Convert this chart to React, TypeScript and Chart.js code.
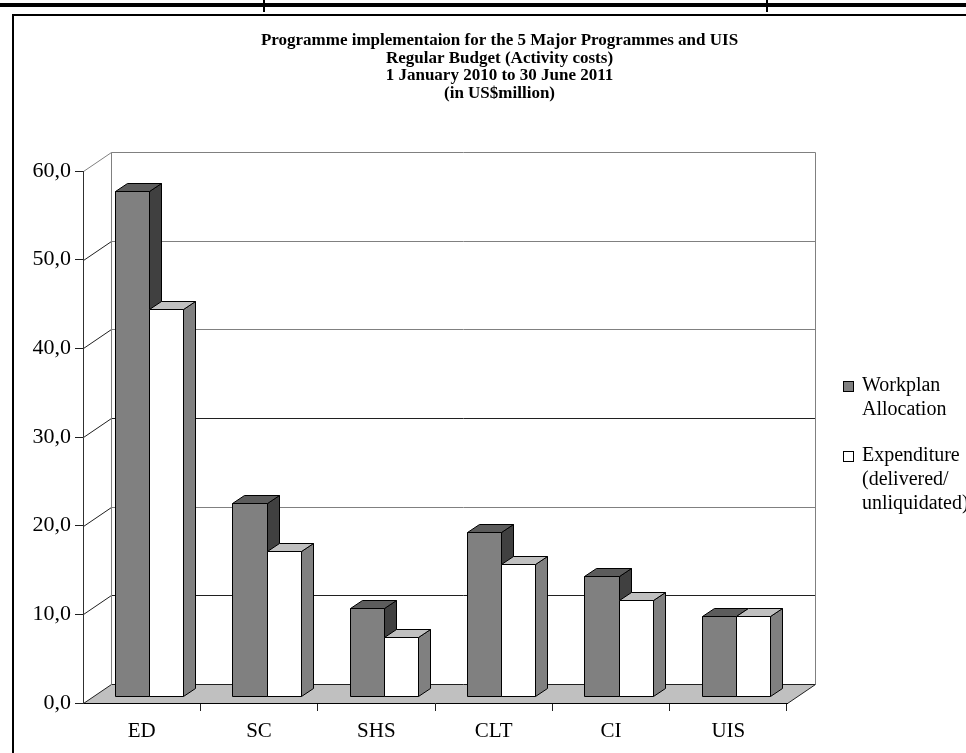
import React, { useEffect, useRef } from 'react';
import { Chart, registerables } from 'chart.js';

Chart.register(...registerables);

// ---- data ----
const categories = ['ED', 'SC', 'SHS', 'CLT', 'CI', 'UIS'];
const workplanAllocation = [57.0, 21.8, 9.9, 18.5, 13.5, 9.0];
const expenditure = [43.7, 16.4, 6.7, 14.9, 10.8, 9.0];
const yTickValues = [0, 10, 20, 30, 40, 50, 60];
const titleLines = [
  'Programme implementaion for the 5 Major Programmes and UIS',
  'Regular Budget (Activity costs)',
  '1 January 2010 to 30 June 2011',
  '(in US$million)',
];
const legendWorkplan = ['Workplan', 'Allocation'];
const legendExpenditure = ['Expenditure', '(delivered/', 'unliquidated)'];

// ---- styling ----
const SERIF = "'Liberation Serif', 'Times New Roman', serif";
const CANVAS_W = 999;
const CANVAS_H = 753;
// depth of the plot box (front plane -> back wall)
const DX = 28;
const DY = -19;
// bars sit slightly behind the front plane
const BAR_SHIFT_X = 7.5;
const BAR_SHIFT_Y = -7;
// depth of each bar
const BAR_DX = 12;
const BAR_DY = -8;
// back-wall line shades, one per tick (0 .. 60)
const wallShades = ['#202020', '#202020', '#808080', '#202020', '#808080', '#808080', '#808080'];
const sideShades = ['#202020', '#202020', '#202020', '#202020', '#202020', '#202020', '#808080'];

const seriesStyles = [
  { front: '#808080', top: '#5c5c5c', side: '#404040' },
  { front: '#ffffff', top: '#c0c0c0', side: '#808080' },
];

function polygon(ctx: CanvasRenderingContext2D, pts: number[][]) {
  ctx.beginPath();
  ctx.moveTo(pts[0][0], pts[0][1]);
  for (let i = 1; i < pts.length; i++) ctx.lineTo(pts[i][0], pts[i][1]);
  ctx.closePath();
}

function line(ctx: CanvasRenderingContext2D, x1: number, y1: number, x2: number, y2: number, color: string) {
  ctx.strokeStyle = color;
  ctx.beginPath();
  ctx.moveTo(x1, y1);
  ctx.lineTo(x2, y2);
  ctx.stroke();
}

const boxPlugin = {
  id: 'box3d',
  beforeDraw(chart: any) {
    const { ctx, chartArea: ca, scales } = chart;
    const yScale = scales.y;
    const L = ca.left + 0.5;
    const R = ca.right + 0.5;
    const B = Math.round(ca.bottom) + 0.5;
    ctx.save();

    // page rule above the frame
    ctx.fillStyle = '#000';
    ctx.fillRect(0, 3, chart.width, 4);
    ctx.fillRect(263, 0, 2, 12);
    ctx.fillRect(766, 0, 2, 12);

    // chart frame
    ctx.lineWidth = 2;
    ctx.strokeStyle = '#000';
    ctx.beginPath();
    ctx.moveTo(13, CANVAS_H + 10);
    ctx.lineTo(13, 15);
    ctx.lineTo(chart.width + 10, 15);
    ctx.stroke();

    ctx.lineWidth = 1;

    // floor
    ctx.fillStyle = '#c0c0c0';
    polygon(ctx, [[L, B], [R, B], [R + DX, B + DY], [L + DX, B + DY]]);
    ctx.fill();
    line(ctx, R, B, R + DX, B + DY, '#202020');

    // back wall gridlines and side wall diagonals
    yTickValues.forEach((v, i) => {
      const fy = Math.round(yScale.getPixelForValue(v)) + 0.5;
      line(ctx, L + DX, fy + DY, R + DX, fy + DY, wallShades[i]);
      line(ctx, L, fy, L + DX, fy + DY, sideShades[i]);
    });
    const topBack = Math.round(yScale.getPixelForValue(yTickValues[yTickValues.length - 1])) + 0.5 + DY;
    line(ctx, L + DX, topBack, L + DX, B + DY, '#808080');
    line(ctx, R + DX, topBack, R + DX, B + DY, '#808080');
    ctx.restore();
  },
  afterDatasetsDraw(chart: any) {
    const { ctx } = chart;
    ctx.save();
    ctx.lineWidth = 1;
    ctx.strokeStyle = '#000';
    ctx.lineJoin = 'miter';
    const metas = chart.data.datasets.map((_: any, i: number) => chart.getDatasetMeta(i));
    categories.forEach((_, ci) => {
      metas.forEach((meta: any, di: number) => {
        const el = meta.data[ci];
        if (!el) return;
        const { x, y, base, width } = el.getProps(['x', 'y', 'base', 'width'], true);
        const st = seriesStyles[di];
        const l = Math.round(x - width / 2 + BAR_SHIFT_X) + 0.5;
        const r = Math.round(x + width / 2 + BAR_SHIFT_X) + 0.5;
        const t = Math.round(y + BAR_SHIFT_Y) + 0.5;
        const b = Math.round(base + BAR_SHIFT_Y) + 0.5;
        // side
        ctx.fillStyle = st.side;
        polygon(ctx, [[r, t], [r + BAR_DX, t + BAR_DY], [r + BAR_DX, b + BAR_DY], [r, b]]);
        ctx.fill();
        ctx.stroke();
        // top
        ctx.fillStyle = st.top;
        polygon(ctx, [[l, t], [r, t], [r + BAR_DX, t + BAR_DY], [l + BAR_DX, t + BAR_DY]]);
        ctx.fill();
        ctx.stroke();
        // front
        ctx.fillStyle = st.front;
        polygon(ctx, [[l, t], [r, t], [r, b], [l, b]]);
        ctx.fill();
        ctx.stroke();
      });
    });
    ctx.restore();
  },
  afterDraw(chart: any) {
    const { ctx } = chart;
    ctx.save();
    // title
    ctx.fillStyle = '#000';
    ctx.font = `bold 17px ${SERIF}`;
    ctx.textAlign = 'center';
    ctx.textBaseline = 'middle';
    titleLines.forEach((t, i) => ctx.fillText(t, chart.width / 2, 41 + i * 17.5));

    // legend
    const entries = [
      { lines: legendWorkplan, color: seriesStyles[0].front, y: 386 },
      { lines: legendExpenditure, color: seriesStyles[1].front, y: 456 },
    ];
    ctx.font = `20px ${SERIF}`;
    ctx.textAlign = 'left';
    entries.forEach((e) => {
      ctx.fillStyle = e.color;
      ctx.fillRect(843, e.y - 5, 11, 11);
      ctx.strokeStyle = '#000';
      ctx.lineWidth = 1;
      ctx.strokeRect(843.5, e.y - 4.5, 10, 10);
      ctx.fillStyle = '#000';
      e.lines.forEach((t, i) => ctx.fillText(t, 862, e.y + i * 24));
    });
    ctx.restore();
  },
};

export default function App() {
  const canvasRef = useRef<HTMLCanvasElement>(null);

  useEffect(() => {
    const canvas = canvasRef.current;
    if (!canvas) return;
    const chart = new Chart(canvas, {
      type: 'bar',
      data: {
        labels: categories,
        datasets: [
          {
            label: legendWorkplan.join(' '),
            data: workplanAllocation,
            backgroundColor: 'rgba(0,0,0,0)',
            borderWidth: 0,
            categoryPercentage: 0.58,
            barPercentage: 1,
          },
          {
            label: legendExpenditure.join(' '),
            data: expenditure,
            backgroundColor: 'rgba(0,0,0,0)',
            borderWidth: 0,
            categoryPercentage: 0.58,
            barPercentage: 1,
          },
        ],
      },
      options: {
        responsive: false,
        maintainAspectRatio: false,
        devicePixelRatio: 1,
        animation: false,
        events: [],
        layout: { padding: { top: 171, right: CANVAS_W - 787, left: 0, bottom: 0 } },
        plugins: {
          legend: { display: false },
          title: { display: false },
          tooltip: { enabled: false },
        },
        scales: {
          x: {
            grid: {
              offset: true,
              drawOnChartArea: false,
              drawTicks: true,
              tickLength: 8,
              color: (c: any) => (c.index === 0 ? 'rgba(0,0,0,0)' : '#202020'),
            },
            border: { display: true, color: '#000' },
            ticks: {
              color: '#000',
              padding: 8,
              font: { family: SERIF, size: 21 },
            },
            afterFit: (s: any) => {
              s.height = CANVAS_H - 703;
            },
          },
          y: {
            min: 0,
            max: 60,
            grid: {
              drawOnChartArea: false,
              drawTicks: true,
              tickLength: 8,
              color: '#202020',
            },
            border: { display: true, color: '#303030' },
            ticks: {
              stepSize: 10,
              color: '#000',
              padding: 4,
              font: { family: SERIF, size: 22 },
              callback: (v: any) => Number(v).toFixed(1).replace('.', ','),
            },
            afterFit: (s: any) => {
              s.width = 83;
            },
          },
        },
      },
      plugins: [boxPlugin],
    });
    return () => chart.destroy();
  }, []);

  return (
    <div
      style={{
        position: 'absolute',
        left: 0,
        top: 0,
        width: 966,
        height: CANVAS_H,
        overflow: 'hidden',
        background: '#fff',
      }}
    >
      <canvas
        ref={canvasRef}
        width={CANVAS_W}
        height={CANVAS_H}
        style={{ display: 'block', width: CANVAS_W, height: CANVAS_H }}
      />
    </div>
  );
}
